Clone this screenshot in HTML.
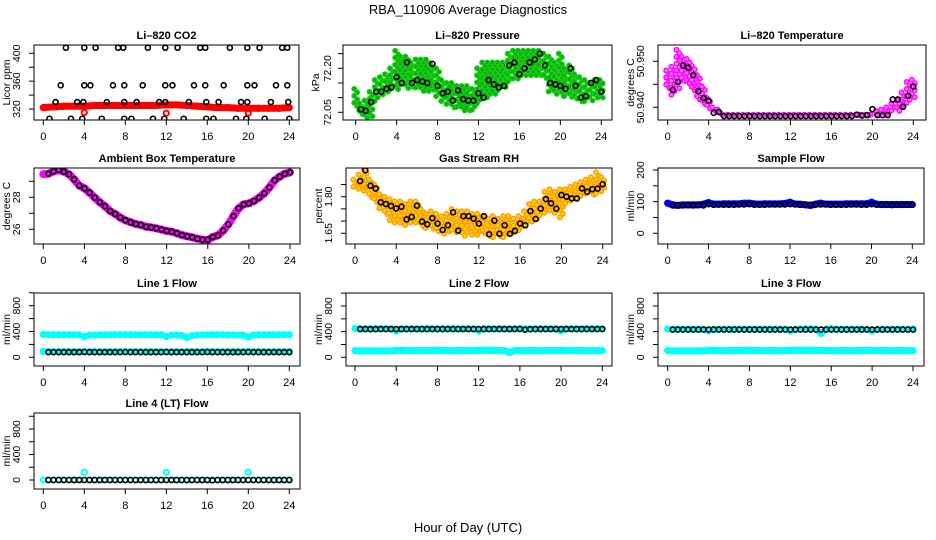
<!DOCTYPE html>
<html><head><meta charset="utf-8">
<style>
html,body{margin:0;padding:0;background:#fff;}
svg{display:block;font-family:"Liberation Sans",sans-serif;}
</style></head>
<body>
<svg id="chart" width="936" height="540" viewBox="0 0 936 540" xmlns="http://www.w3.org/2000/svg">
<rect x="0" y="0" width="936" height="540" fill="#fff"/>
<text x="468" y="14" text-anchor="middle" font-size="13">RBA_110906  Average Diagnostics</text>
<text x="468" y="532" text-anchor="middle" font-size="13">Hour of Day (UTC)</text>
</svg>
<script>
// ---------- data ----------
const H = [0.5,1,1.5,2,2.5,3,3.5,4,4.5,5,5.5,6,6.5,7,7.5,8,8.5,9,9.5,10,10.5,11,11.5,12,12.5,13,13.5,14,14.5,15,15.5,16,16.5,17,17.5,18,18.5,19,19.5,20,20.5,21,21.5,22,22.5,23,23.5,24];
const HB = [0,0.5,1,1.5,2,2.5,3,3.5,4,4.5,5,5.5,6,6.5,7,7.5,8,8.5,9,9.5,10,10.5,11,11.5,12,12.5,13,13.5,14,14.5,15,15.5,16,16.5,17,17.5,18,18.5,19,19.5,20,20.5,21,21.5,22,22.5,23,23.5,24];
const HOURLY = [0,1,2,3,4,5,6,7,8,9,10,11,12,13,14,15,16,17,18,19,20,21,22,23,24];
const xTickLabels = [0,4,8,12,16,20,24];

const co2Hours = [0.6,1.2,1.7,2.2,2.7,3.3,3.8,3.9,4.0,4.0,4.6,5.1,5.7,6.2,6.8,7.3,7.8,7.9,7.9,7.9,8.6,9.1,9.7,10.2,10.7,11.3,11.8,11.9,11.9,11.9,12.6,13.1,13.7,14.2,14.7,15.3,15.8,15.8,15.9,15.9,16.6,17.1,17.6,18.2,18.8,19.3,19.8,19.9,19.9,19.9,20.6,21.1,21.6,22.2,22.7,23.3,23.8,23.8,23.9,24];
const co2Avg = [306,330,354,408,306,330,306,330,354,408,354,408,306,330,354,408,408,354,330,306,306,330,354,408,306,330,306,330,354,408,354,408,306,330,354,408,408,354,330,306,306,330,354,408,306,330,306,330,354,408,354,408,306,330,354,408,408,354,330,306];
const co2Raw = [322,323,324,324,324,325,325,325,325,325,325,325,326,326,325,324,323,322,322,321,321,321,321,321,322];
const co2OutHours = [4,12,20];
const co2Out = [315,314,314];

const presAvg = [72.06,72.055,72.085,72.12,72.12,72.13,72.135,72.17,72.15,72.22,72.15,72.16,72.155,72.15,72.215,72.14,72.115,72.12,72.09,72.125,72.095,72.09,72.09,72.115,72.1,72.16,72.145,72.135,72.14,72.21,72.22,72.18,72.2,72.22,72.23,72.25,72.21,72.15,72.145,72.14,72.13,72.2,72.14,72.1,72.105,72.15,72.16,72.12];
const presLo = [72.06,72.04,72.02,72.03,72.08,72.1,72.11,72.12,72.12,72.14,72.13,72.13,72.13,72.12,72.12,72.12,72.1,72.08,72.07,72.06,72.06,72.05,72.05,72.05,72.08,72.09,72.1,72.11,72.12,72.13,72.15,72.16,72.16,72.17,72.17,72.17,72.17,72.16,72.12,72.11,72.11,72.1,72.1,72.09,72.08,72.08,72.08,72.09,72.1];
const presHi = [72.13,72.08,72.09,72.12,72.16,72.17,72.18,72.2,72.26,72.24,72.24,72.22,72.23,72.23,72.23,72.21,72.2,72.16,72.15,72.15,72.14,72.14,72.14,72.13,72.2,72.22,72.22,72.22,72.22,72.22,72.25,72.26,72.26,72.26,72.26,72.26,72.26,72.25,72.24,72.22,72.25,72.2,72.21,72.18,72.17,72.16,72.15,72.16,72.16];

const tempAvg = [50.9438,50.9455,50.9491,50.9486,50.947,50.9435,50.942,50.9414,50.9388,50.939,50.9381,50.9381,50.9381,50.9381,50.9381,50.9381,50.9381,50.9381,50.9381,50.9381,50.9381,50.9381,50.9381,50.9381,50.9381,50.9381,50.9381,50.9381,50.9381,50.9381,50.9381,50.9381,50.9381,50.9381,50.9381,50.9381,50.9384,50.9382,50.9383,50.9396,50.9383,50.9383,50.9383,50.9417,50.9417,50.9401,50.9425,50.9445];
const tempLo = [50.9435,50.942,50.944,50.945,50.9445,50.943,50.941,50.940,50.9393,50.9385,50.9382,50.938,50.938,50.938,50.938,50.938,50.938,50.938,50.938,50.938,50.938,50.938,50.938,50.938,50.938,50.938,50.938,50.938,50.938,50.938,50.938,50.938,50.938,50.938,50.938,50.938,50.938,50.938,50.938,50.938,50.938,50.938,50.9381,50.9383,50.9388,50.939,50.9395,50.9405,50.942];
const tempHi = [50.948,50.9488,50.9525,50.951,50.9505,50.949,50.947,50.9445,50.942,50.940,50.9395,50.9384,50.9384,50.9384,50.9384,50.9384,50.9384,50.9384,50.9384,50.9384,50.9384,50.9384,50.9384,50.9384,50.9384,50.9384,50.9384,50.9384,50.9384,50.9384,50.9384,50.9384,50.9384,50.9384,50.9384,50.9384,50.9384,50.9384,50.9384,50.9384,50.9384,50.9392,50.9395,50.940,50.9408,50.9415,50.9432,50.9455,50.946];

const ambAvg = [29.47,29.62,29.7,29.6,29.44,29.12,28.73,28.56,28.29,27.98,27.69,27.44,27.14,26.96,26.73,26.56,26.44,26.33,26.27,26.16,26.12,26.06,25.98,25.9,25.85,25.75,25.64,25.56,25.5,25.41,25.35,25.35,25.52,25.62,25.92,26.31,26.83,27.31,27.56,27.62,27.77,27.98,28.25,28.62,29.06,29.29,29.47,29.56];
const ambRaw = [29.45,29.47,29.62,29.7,29.6,29.44,29.12,28.73,28.56,28.29,27.98,27.69,27.44,27.14,26.96,26.73,26.56,26.44,26.33,26.27,26.16,26.12,26.06,25.98,25.9,25.85,25.75,25.64,25.56,25.5,25.41,25.35,25.33,25.52,25.62,25.92,26.31,26.83,27.31,27.56,27.62,27.77,27.98,28.25,28.62,29.06,29.29,29.47,29.56];

const rhAvg = [1.864,1.908,1.845,1.833,1.777,1.770,1.762,1.752,1.759,1.707,1.717,1.763,1.698,1.687,1.712,1.69,1.664,1.683,1.736,1.661,1.72,1.72,1.71,1.69,1.72,1.646,1.702,1.648,1.683,1.648,1.66,1.69,1.683,1.741,1.709,1.751,1.79,1.773,1.751,1.807,1.80,1.793,1.793,1.834,1.82,1.831,1.833,1.851];
const rhLo = [1.83,1.83,1.82,1.79,1.77,1.74,1.72,1.70,1.69,1.69,1.68,1.68,1.68,1.67,1.66,1.66,1.65,1.64,1.65,1.65,1.65,1.63,1.65,1.64,1.64,1.64,1.63,1.63,1.63,1.63,1.64,1.64,1.65,1.67,1.69,1.70,1.72,1.73,1.73,1.73,1.71,1.76,1.77,1.78,1.79,1.80,1.80,1.81,1.82];
const rhHi = [1.87,1.89,1.91,1.87,1.85,1.81,1.80,1.79,1.78,1.78,1.77,1.78,1.78,1.75,1.73,1.74,1.73,1.72,1.73,1.75,1.74,1.74,1.74,1.73,1.73,1.72,1.71,1.72,1.71,1.72,1.72,1.71,1.72,1.74,1.77,1.78,1.78,1.82,1.83,1.82,1.83,1.83,1.84,1.85,1.86,1.87,1.88,1.90,1.88];

const sampleAvg = [88,89,88,89,88,89,88,92,90,91,90,90,90,91,91,92,90,90,90,91,91,91,91,92,92,90,91,90,90,91,92,90,90,90,90,91,91,90,90,92,90,90,90,89,90,90,90,90];
const sampleRaw = [95,90,88,90,90,90,90,92,97,92,92,93,93,93,93,95,95,93,92,93,93,93,93,94,98,92,92,90,88,92,95,92,92,92,92,93,93,93,93,93,98,92,91,91,91,91,91,91,91];

const line1Avg = [80,80,80,80,80,80,80,82,80,80,80,80,80,80,80,82,80,80,80,80,80,80,80,82,80,80,80,80,80,80,80,82,80,80,80,80,80,80,80,82,80,80,80,80,80,80,80,80];
const line1Hi = [355,352,350,350,350,350,350,348,320,345,345,348,350,350,352,352,352,352,350,350,350,350,350,350,320,345,345,340,305,335,345,348,350,350,350,350,348,348,345,345,315,345,348,350,350,350,350,352,352];
const line1Lo = [90,90,90,90,90,90,90,90,90,90,90,90,90,90,90,90,90,90,90,90,90,90,90,90,90,90,90,90,90,90,90,90,90,90,90,90,90,90,90,90,90,90,90,90,90,90,90,90,90];

const line2Avg = [440,440,438,440,440,440,440,440,440,440,440,440,440,440,440,440,440,440,440,440,440,440,440,440,440,440,440,440,440,440,440,442,430,438,440,440,440,440,440,440,440,440,440,440,440,440,440,440];
const line2Hi = [450,445,445,445,445,445,445,445,410,445,445,445,445,445,445,445,445,445,445,445,445,445,445,445,410,445,445,445,445,445,445,445,445,445,445,445,445,445,445,445,410,445,445,445,445,445,445,445,445];
const line2Lo = [105,100,100,100,100,100,100,100,108,108,105,105,105,105,105,108,108,105,105,105,105,105,105,105,108,108,108,108,105,105,75,105,105,105,105,105,105,105,105,105,108,105,105,105,105,105,105,105,105];

const line3Avg = [432,432,432,432,432,432,432,432,432,432,432,432,432,432,432,432,432,432,432,432,432,432,432,432,432,432,432,432,432,432,432,432,432,432,432,432,432,432,432,432,432,432,432,432,432,432,432,432];
const line3Hi = [440,438,438,438,438,438,438,438,410,438,438,438,438,438,438,438,438,438,438,438,438,438,438,438,410,438,440,445,445,440,370,440,445,438,438,438,438,438,438,438,410,438,438,438,438,438,438,438,438];
const line3Lo = [105,100,100,100,100,100,100,100,108,108,105,105,105,105,105,108,108,105,105,105,105,105,105,105,108,108,108,108,108,108,105,108,105,105,105,105,105,105,105,105,108,105,105,105,105,105,105,105,105];

const line4Avg = [0,0,0,0,0,0,0,0,0,0,0,0,0,0,0,0,0,0,0,0,0,0,0,0,0,0,0,0,0,0,0,0,-5,0,0,0,0,0,0,0,0,0,0,0,0,0,0,0];
const line4Raw = [0,0,0,0,0,0,0,0,120,0,0,0,0,0,0,0,0,0,0,0,0,0,0,0,120,0,0,0,-5,0,0,0,0,0,0,0,0,0,0,0,120,0,0,0,0,0,0,0,0];

// ---------- drawing ----------
const NS = "http://www.w3.org/2000/svg";
const svg = document.getElementById('chart');
function mk(tag, attrs, parent){
  const e = document.createElementNS(NS, tag);
  for (const k in attrs) e.setAttribute(k, attrs[k]);
  parent.appendChild(e);
  return e;
}
let clipId = 0;
function panel(p){
  const g = mk('g', {}, svg);
  
  
  const [L,T,R,B] = p.box;
  const xs = h => p.x0 + h/24*(p.x24 - p.x0);
  const ys = v => p.p1 + (v - p.v1)*(p.p2 - p.p1)/(p.v2 - p.v1);
  const t = mk('text', {x:(L+R)/2, y:T-6, 'text-anchor':'middle', 'font-size':11, 'font-weight':'bold'}, g);
  t.textContent = p.title;
  
  
  const cid = 'clip' + (clipId++);
  const cp = mk('clipPath', {id:cid}, g);
  mk('rect', {x:L, y:T, width:R-L, height:B-T}, cp);
  const plot = mk('g', {'clip-path':'url(#'+cid+')'}, g);
  
  
  const frame = mk('rect', {x:L, y:T, width:R-L, height:B-T, fill:'none', stroke:'#000', 'stroke-width':1}, g);
  
  
  const xa = mk('g', {}, g);
  
  
  mk('line', {x1:xs(0), x2:xs(24), y1:B, y2:B, stroke:'#000'}, xa);
  xTickLabels.forEach(h => {
    mk('line', {x1:xs(h), x2:xs(h), y1:B, y2:B+5, stroke:'#000'}, xa);
    const tl = mk('text', {x:xs(h), y:B+20, 'text-anchor':'middle', 'font-size':11}, xa);
    tl.textContent = h;
  });
  const ya = mk('g', {}, g);
  
  
  const yt = p.yticks;
  mk('line', {x1:L, x2:L, y1:ys(yt[0]), y2:ys(yt[yt.length-1]), stroke:'#000'}, ya);
  yt.forEach(v => { mk('line', {x1:L-5, x2:L, y1:ys(v), y2:ys(v), stroke:'#000'}, ya); });
  p.ylabels.forEach(v => {
    const tx = L - (p.labOff || 14), ty = ys(v);
    const tl = mk('text', {x:tx, y:ty, 'text-anchor':'middle', 'font-size':10.5, transform:'rotate(-90 '+tx+' '+ty+')'}, ya);
    tl.textContent = p.fmt ? p.fmt(v) : v;
  });
  const yx = L - 24, yy = (T+B)/2;
  const yl = mk('text', {x:yx, y:yy, 'text-anchor':'middle', 'font-size':10.5, transform:'rotate(-90 '+yx+' '+yy+')'}, g);
  yl.textContent = p.ylab;
  
  
  return {plot, xs, ys, name:p.name};
}
function cloud(P, hours, lo, hi, stroke, fill){
  const g = mk('g', {}, P.plot);
  
  
  hours.forEach((h, i) => {
    const x = P.xs(h), a = P.ys(hi[i]), b = P.ys(lo[i]);
    let k = 0;
    for (let y = a; y <= b + 0.01; y += 3.5) {
      const dx = (k++ % 2) ? 1.5 : -1.5;
      mk('circle', {cx:x+dx, cy:y, r:2.3, fill:fill, stroke:stroke, 'stroke-width':1.3}, g);
    }
  });
}
function band(P, hours, vals, color, width, withLine, label){
  const g = mk('g', {}, P.plot);
  
  
  if (withLine) {
    mk('polyline', {points: hours.map((h,i)=>P.xs(h)+','+P.ys(vals[i])).join(' '), fill:'none', stroke:color, 'stroke-width':width, 'stroke-linejoin':'round', 'stroke-linecap':'round'}, g);
  }
  hours.forEach((h, i) => {
    mk('circle', {cx:P.xs(h), cy:P.ys(vals[i]), r:2.6, fill:'none', stroke:color, 'stroke-width':2}, g);
  });
}
function dots(P, hours, vals, label){
  const g = mk('g', {}, P.plot);
  
  
  hours.forEach((h, i) => {
    mk('circle', {cx:P.xs(h), cy:P.ys(vals[i]), r:2.5, fill:'none', stroke:'#000', 'stroke-width':1.6}, g);
  });
}
const flowTicks = [0,200,400,600,800,1000];
const flowLabels = [0,400,800];

const P1 = panel({name:'co2-panel', title:'Li\u2013820 CO2', ylab:'Licor ppm', box:[34,45,299,120], x0:43.3, x24:289.3, v1:320, p1:109, v2:400, p2:53.3, yticks:[320,340,360,380,400], ylabels:[320,360,400]});
band(P1, HOURLY, co2Raw, '#ff0000', 7, true, 'raw-band');
band(P1, co2OutHours, co2Out, '#ff0000', 2, false, 'raw-outliers');
dots(P1, co2Hours, co2Avg, 'average-points');

const P2 = panel({name:'pressure-panel', title:'Li\u2013820 Pressure', ylab:'kPa', box:[343,45,612,120], x0:355.7, x24:601.3, v1:72.05, p1:112.3, v2:72.20, p2:68.3, yticks:[72.05,72.10,72.15,72.20,72.25], ylabels:[72.05,72.20], labOff:12, fmt:v=>v.toFixed(2)});
cloud(P2, HB, presLo, presHi, '#00dd00', '#2a9a2a');
dots(P2, H, presAvg, 'average-points');

const P3 = panel({name:'li820-temperature-panel', title:'Li\u2013820 Temperature', ylab:'degrees C', box:[658,45,926,120], x0:667.7, x24:913.3, v1:50.940, p1:107.3, v2:50.950, p2:61.3, yticks:[50.940,50.945,50.950], ylabels:[50.940,50.950], fmt:v=>v.toFixed(3)});
cloud(P3, HB, tempLo, tempHi, '#ff00ff', '#ff66ff');
dots(P3, H, tempAvg, 'average-points');

const P4 = panel({name:'ambient-temperature-panel', title:'Ambient Box Temperature', ylab:'degrees C', box:[34,168,300,244], x0:43.3, x24:290, v1:26, p1:229.3, v2:28, p2:197.3, yticks:[26,27,28,29], ylabels:[26,28]});
band(P4, HB, ambRaw, '#ff00ff', 8, true, 'raw-band');
dots(P4, H, ambAvg, 'average-points');

const P5 = panel({name:'rh-panel', title:'Gas Stream RH', ylab:'percent', box:[346,168,612,244], x0:355, x24:602.7, v1:1.65, p1:233.3, v2:1.80, p2:196.7, yticks:[1.65,1.70,1.75,1.80,1.85], ylabels:[1.65,1.80], fmt:v=>v.toFixed(2)});
cloud(P5, HB, rhLo, rhHi, '#ff9900', '#ffd200');
dots(P5, H, rhAvg, 'average-points');

const P6 = panel({name:'sample-flow-panel', title:'Sample Flow', ylab:'ml/min', box:[658,168,924,244], x0:667.7, x24:912.3, v1:0, p1:233.3, v2:200, p2:170, yticks:[0,50,100,150,200], ylabels:[0,100,200]});
band(P6, HB, sampleRaw, '#0000ff', 7, true, 'raw-band');
dots(P6, H, sampleAvg, 'average-points');

const P7 = panel({name:'line1-flow-panel', title:'Line 1 Flow', ylab:'ml/min', box:[34,293,300,366], x0:43.3, x24:289.3, v1:0, p1:357.3, v2:800, p2:305.7, yticks:flowTicks, ylabels:flowLabels});
band(P7, HB, line1Hi, '#00ffff', 6, true, 'raw-high-band');
band(P7, HB, line1Lo, '#00ffff', 5, true, 'raw-low-band');
dots(P7, H, line1Avg, 'average-points');

const P8 = panel({name:'line2-flow-panel', title:'Line 2 Flow', ylab:'ml/min', box:[346,293,612,366], x0:355, x24:602.3, v1:0, p1:357.3, v2:800, p2:306, yticks:flowTicks, ylabels:flowLabels});
band(P8, HB, line2Hi, '#00ffff', 6, true, 'raw-high-band');
band(P8, HB, line2Lo, '#00ffff', 7, true, 'raw-low-band');
dots(P8, H, line2Avg, 'average-points');

const P9 = panel({name:'line3-flow-panel', title:'Line 3 Flow', ylab:'ml/min', box:[658,293,924,366], x0:667.7, x24:913, v1:0, p1:357.3, v2:800, p2:306, yticks:flowTicks, ylabels:flowLabels});
band(P9, HB, line3Hi, '#00ffff', 6, true, 'raw-high-band');
band(P9, HB, line3Lo, '#00ffff', 7, true, 'raw-low-band');
dots(P9, H, line3Avg, 'average-points');

const P10 = panel({name:'line4-flow-panel', title:'Line 4 (LT) Flow', ylab:'ml/min', box:[34,413,300,489], x0:43.3, x24:289.3, v1:0, p1:480, v2:800, p2:429, yticks:flowTicks, ylabels:flowLabels});
band(P10, HB, line4Raw, '#00ffff', 5, false, 'raw-points');
dots(P10, H, line4Avg, 'average-points');
</script>
</body></html>
